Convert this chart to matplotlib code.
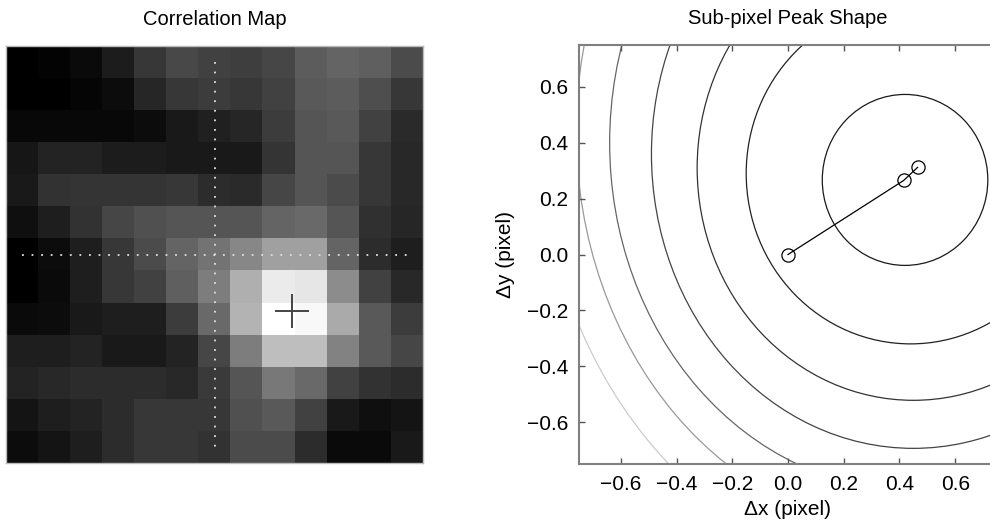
import matplotlib
matplotlib.use('Agg')
import matplotlib.pyplot as plt
from matplotlib.patches import Ellipse
import numpy as np

plt.rcParams['font.family'] = ['Liberation Sans', 'DejaVu Sans']

# correlation map, 13x13 gray levels (0-255), row 0 at top
corr_map = [
    [0, 3, 10, 28, 55, 72, 65, 62, 70, 92, 100, 95, 75],
    [0, 0, 5, 12, 38, 55, 60, 55, 65, 90, 92, 78, 55],
    [8, 8, 8, 8, 12, 25, 32, 38, 60, 85, 90, 65, 42],
    [22, 35, 35, 28, 28, 25, 25, 25, 52, 85, 85, 55, 40],
    [25, 50, 52, 52, 52, 55, 45, 42, 70, 85, 75, 55, 40],
    [15, 30, 50, 70, 80, 85, 85, 85, 100, 105, 85, 48, 38],
    [0, 12, 30, 55, 75, 100, 115, 135, 160, 160, 100, 45, 30],
    [0, 10, 30, 55, 65, 95, 125, 175, 235, 230, 140, 65, 40],
    [10, 12, 25, 30, 30, 60, 105, 180, 255, 248, 170, 90, 60],
    [30, 30, 35, 25, 25, 35, 70, 125, 190, 190, 130, 90, 70],
    [35, 40, 45, 45, 45, 40, 58, 85, 120, 105, 65, 50, 45],
    [20, 30, 35, 45, 55, 55, 55, 80, 90, 65, 25, 15, 20],
    [12, 20, 30, 45, 55, 55, 50, 75, 75, 45, 10, 10, 25],
]
map_center = 6
guide_range = [0, 12]
peak_col = 8.43
peak_row = 7.75

# sub-pixel peak shape: contour lines, inner to outer
contour_cx = [0.42, 0.44, 0.45, 0.45, 0.45, 0.45, 0.45]
contour_cy = [0.267, 0.29, 0.31, 0.36, 0.40, 0.44, 0.50]
contour_rx = [0.297, 0.59, 0.776, 0.94, 1.09, 1.21, 1.35]
contour_ry = [0.306, 0.61, 0.832, 1.054, 1.245, 1.43, 1.645]
contour_colors = ['#1a1a1a', '#222222', '#333333', '#444444', '#666666', '#999999', '#cccccc']

# peak estimates: integer, first iteration, final
path_dx = [0.0, 0.415, 0.465]
path_dy = [0.0, 0.265, 0.312]

ticks = [-0.6, -0.4, -0.2, 0.0, 0.2, 0.4, 0.6]
tick_labels = ['\u22120.6', '\u22120.4', '\u22120.2', '0.0', '0.2', '0.4', '0.6']

fig = plt.figure(figsize=(9.9, 5.27), dpi=100)

# left panel
ax1 = fig.add_axes([6 / 990, 1 - 464 / 527, 417 / 990, 419 / 527])
ax1.imshow(np.array(corr_map), cmap='gray', vmin=0, vmax=255, interpolation='nearest')
ax1.plot([map_center, map_center], guide_range, color='#e0e0e0',
         lw=1.3, linestyle=(0, (1, 4.3)))
ax1.plot(guide_range, [map_center, map_center], color='#e0e0e0',
         lw=1.3, linestyle=(0, (1, 4.3)))
ax1.plot([peak_col], [peak_row], marker='+', markersize=24, mew=1.4, color='#444444')
ax1.set_xticks([])
ax1.set_yticks([])
for s in ax1.spines.values():
    s.set_color('#bbbbbb')
    s.set_linewidth(1)
ax1.set_title('Correlation Map', fontsize=14.5, pad=15)

# right panel
ax2 = fig.add_axes([579 / 990, 1 - 464 / 527, 418 / 990, 419 / 527])
for cx, cy, rx, ry, c in zip(contour_cx, contour_cy, contour_rx, contour_ry, contour_colors):
    ax2.add_patch(Ellipse((cx, cy), 2 * rx, 2 * ry, fill=False, edgecolor=c, lw=0.9))
ax2.plot(path_dx, path_dy, color='black', lw=0.9, marker='o', markersize=9.5,
         fillstyle='none', mew=0.9)
ax2.set_xlim(-0.75, 0.75)
ax2.set_ylim(-0.75, 0.75)
ax2.set_xticks(ticks)
ax2.set_yticks(ticks)
ax2.set_xticklabels(tick_labels)
ax2.set_yticklabels(tick_labels)
ax2.tick_params(direction='in', top=True, right=True, length=4, width=1,
                color='#555555', labelsize=15, pad=8)
for s in ax2.spines.values():
    s.set_color('#808080')
    s.set_linewidth(1.5)
ax2.set_xlabel('Δx (pixel)', fontsize=15, labelpad=4)
ax2.set_ylabel('Δy (pixel)', fontsize=15, labelpad=8)
ax2.set_title('Sub-pixel Peak Shape', fontsize=14.5, pad=15)

fig.savefig('out.png', dpi=100)
